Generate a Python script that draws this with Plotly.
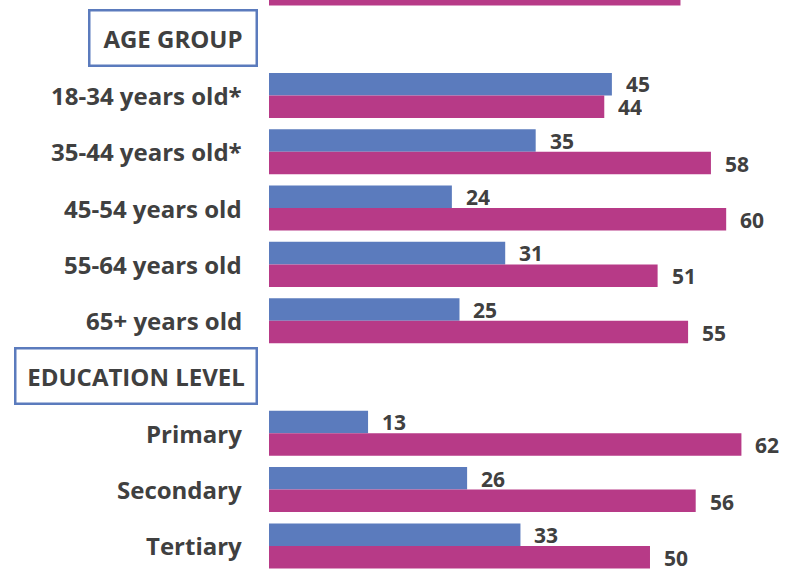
import plotly.graph_objects as go

# Rows top-to-bottom (index 0 is a row cut off at the top of the picture)
row_labels = ["", "AGE GROUP", "18-34 years old*", "35-44 years old*", "45-54 years old",
              "55-64 years old", "65+ years old", "EDUCATION LEVEL",
              "Primary", "Secondary", "Tertiary"]
header_rows = ["AGE GROUP", "EDUCATION LEVEL"]
blue_values = [None, None, 45, 35, 24, 31, 25, None, 13, 26, 33]
magenta_values = [54, None, 44, 58, 60, 51, 55, None, 62, 56, 50]

BLUE = "#5B7BBD"
MAGENTA = "#B73A87"
TEXT = "#404040"
FONT = "Open Sans"

ypos = list(range(len(row_labels)))

fig = go.Figure()
fig.add_trace(go.Bar(y=ypos, x=blue_values, orientation="h", marker=dict(color=BLUE, line=dict(width=0)),
                     hoverinfo="skip", showlegend=False))
fig.add_trace(go.Bar(y=ypos, x=magenta_values, orientation="h", marker=dict(color=MAGENTA, line=dict(width=0)),
                     hoverinfo="skip", showlegend=False))

annotations = []
for i, lab in enumerate(row_labels):
    b = blue_values[i]
    m = magenta_values[i]
    if b is not None and i > 0:
        annotations.append(dict(x=b, y=i, xref="x", yref="y", text=str(b), showarrow=False,
                                xanchor="left", yanchor="middle", xshift=12, yshift=11.5,
                                height=21, valign="middle",
                                font=dict(family=FONT, size=21, color=TEXT, weight="bold")))
    if m is not None and i > 0:
        annotations.append(dict(x=m, y=i, xref="x", yref="y", text=str(m), showarrow=False,
                                xanchor="left", yanchor="middle", xshift=12, yshift=-11.5,
                                height=21, valign="middle",
                                font=dict(family=FONT, size=21, color=TEXT, weight="bold")))
    if lab in header_rows:
        w = 165 if lab == "AGE GROUP" else 239
        annotations.append(dict(x=0, y=i, xref="paper", yref="y", text=lab, showarrow=False,
                                xanchor="right", yanchor="middle", xshift=-11, yshift=1,
                                width=w, height=53, align="center", valign="middle",
                                bordercolor=BLUE, borderwidth=2.5, borderpad=0, bgcolor="white",
                                font=dict(family=FONT, size=24, color=TEXT, weight="bold")))
    elif lab:
        annotations.append(dict(x=0, y=i, xref="paper", yref="y", text=lab, showarrow=False,
                                xanchor="right", yanchor="middle", xshift=-25,
                                font=dict(family=FONT, size=24, color=TEXT, weight="bold")))

fig.update_layout(
    width=802, height=570,
    margin=dict(l=269, r=0, t=0, b=0),
    paper_bgcolor="white", plot_bgcolor="white",
    barmode="group", bargap=0.2, bargroupgap=0,
    xaxis=dict(range=[0, 69.95], visible=False, fixedrange=True),
    yaxis=dict(range=[10.428, 0.304], visible=False, fixedrange=True),
    annotations=annotations,
)

fig.write_html("out.html", config={"displayModeBar": False},
               post_script="document.body.style.margin='0px';")
